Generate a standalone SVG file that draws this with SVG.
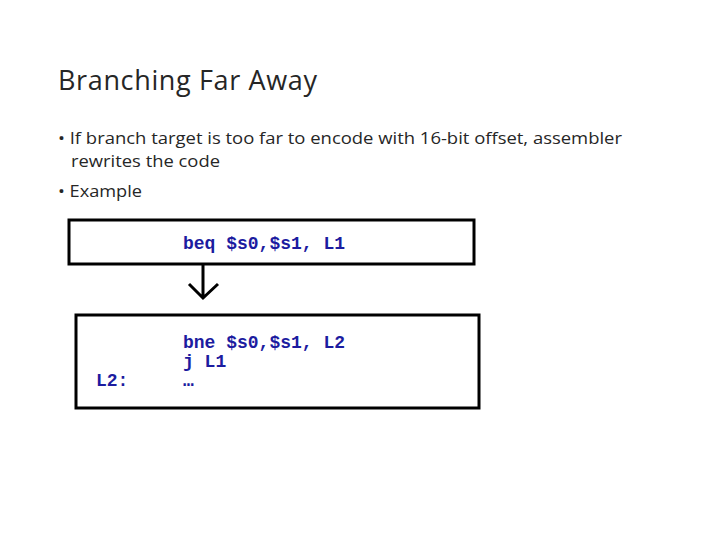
<svg xmlns="http://www.w3.org/2000/svg" width="720" height="540" viewBox="0 0 720 540">
<style>
.t{font-family:"Open Sans","Liberation Sans",sans-serif;fill:#262626}
.c{font-family:"Liberation Mono",monospace;font-weight:bold;font-size:18px;fill:#1c1ca0}
.b{fill:#fff;stroke:#000;stroke-width:3}
</style>
<rect width="720" height="540" fill="#fff"/>
<text class="t" x="58" y="90" font-size="27" textLength="259">Branching Far Away</text>
<text class="t" x="58" y="144" font-size="17" textLength="564" lengthAdjust="spacingAndGlyphs">• If branch target is too far to encode with 16-bit offset, assembler</text>
<text class="t" x="71" y="167" font-size="17" textLength="149" lengthAdjust="spacingAndGlyphs">rewrites the code</text>
<text class="t" x="58" y="197" font-size="17" textLength="84" lengthAdjust="spacingAndGlyphs">• Example</text>
<g id="top"><rect class="b" x="69" y="220" width="405" height="44"/>
<text class="c" x="183" y="249">beq $s0,$s1, L1</text></g>
<g id="bottom"><rect class="b" x="76" y="315" width="403" height="93"/>
<text class="c" x="183" y="348">bne $s0,$s1, L2</text>
<text class="c" x="183" y="367">j L1</text>
<text class="c" x="96" y="386">L2:</text>
<text class="c" x="183" y="386">…</text></g>
<g id="connectors" fill="none" stroke="#000" stroke-width="3">
<path d="M203 264V298M189 284L203 298L218 284"/></g>
</svg>
